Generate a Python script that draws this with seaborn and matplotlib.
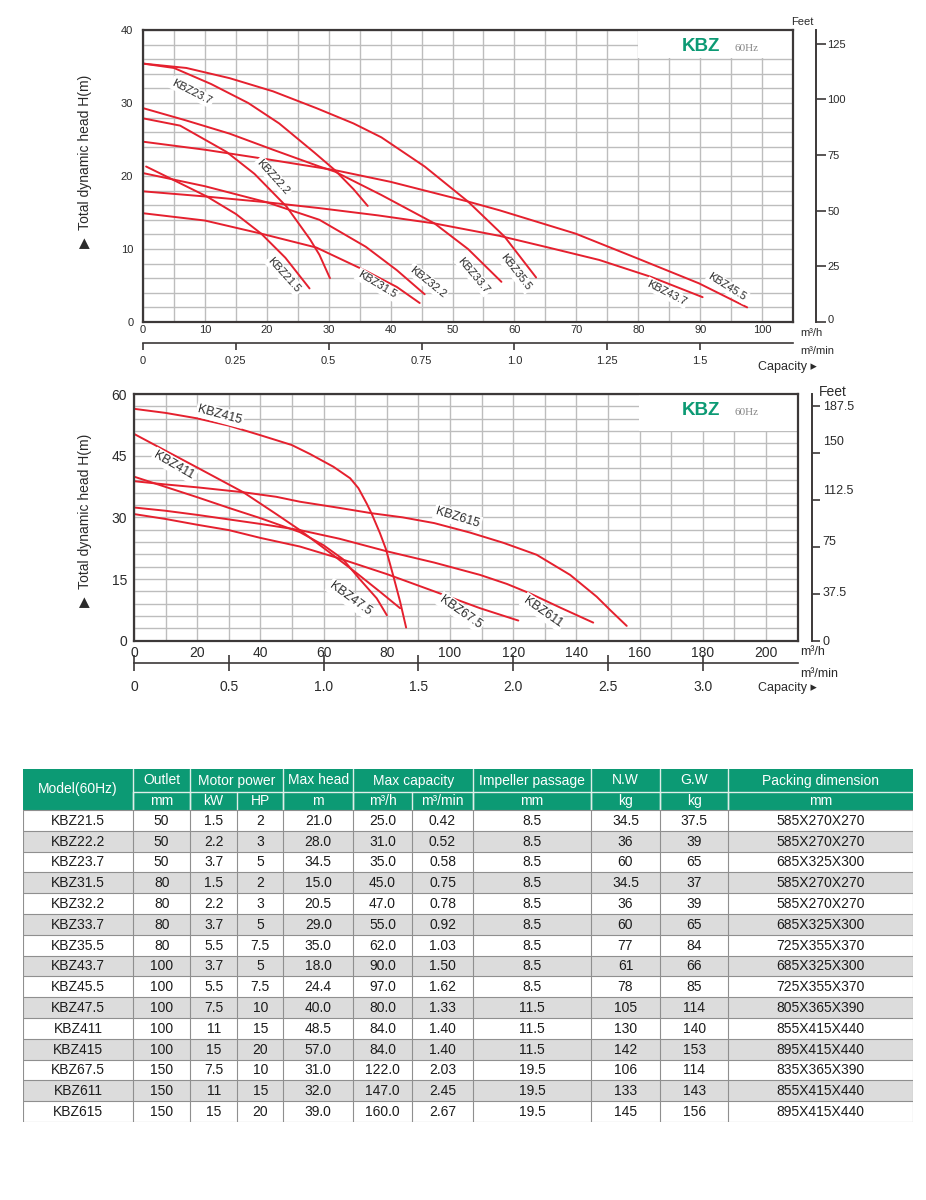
import matplotlib
matplotlib.use('Agg')
import matplotlib.pyplot as plt
import pandas as pd
import seaborn as sns
from matplotlib.patches import Rectangle
from matplotlib.ticker import MultipleLocator
from matplotlib.transforms import ScaledTranslation

sns.set_theme(style='white')
plt.rcParams['font.family'] = ['Liberation Sans', 'DejaVu Sans']
plt.rcParams['axes.unicode_minus'] = False

# ======================= DATA =======================
# Upper chart: capacity (m3/h) vs total head (m)
q_kbz21_5 = [0.5, 4.1, 10.3, 15.0, 19.1, 23.0, 26.9]
h_kbz21_5 = [21.3, 19.8, 17.2, 14.8, 12.1, 8.8, 4.6]
q_kbz22_2 = [0, 6, 13.5, 18, 23.2, 27, 28.5, 30.2]
h_kbz22_2 = [27.9, 26.9, 23.3, 20.3, 15.8, 11.3, 9.2, 6.0]
q_kbz23_7 = [0, 5, 11, 17, 22, 27.7, 31, 34, 36.3]
h_kbz23_7 = [35.4, 34.8, 32.6, 30.0, 27.2, 23.2, 20.8, 18.2, 15.9]
q_kbz31_5 = [0, 10, 19.1, 28, 36, 41, 44.7]
h_kbz31_5 = [14.9, 13.9, 12.1, 10.2, 7.0, 4.8, 2.6]
q_kbz32_2 = [0, 10, 20, 28.5, 36, 41, 45.5]
h_kbz32_2 = [20.4, 18.6, 16.4, 14.0, 10.3, 7.1, 3.8]
q_kbz33_7 = [0, 7, 14, 21, 28.5, 31, 38.5, 47.1, 52.5, 57.9]
h_kbz33_7 = [29.3, 27.6, 25.8, 23.6, 21.3, 20.6, 17.4, 13.5, 10.0, 5.5]
q_kbz35_5 = [0, 7, 14, 21, 28, 34, 38.5, 45.5, 52.5, 58.4, 63.5]
h_kbz35_5 = [35.4, 34.8, 33.4, 31.6, 29.3, 27.2, 25.3, 21.3, 16.5, 11.7, 6.1]
q_kbz43_7 = [0, 10, 20, 28.5, 38, 47.1, 57.6, 65, 73.7, 82, 90.4]
h_kbz43_7 = [17.9, 17.2, 16.4, 15.6, 14.6, 13.5, 11.8, 10.3, 8.5, 6.2, 3.4]
q_kbz45_5 = [0, 10, 20, 31, 40, 52.5, 57.6, 69.9, 79.9, 89.8, 97.6]
h_kbz45_5 = [24.7, 23.6, 22.3, 20.8, 19.2, 16.5, 15.3, 12.1, 8.7, 5.3, 2.0]

# Lower chart
q_kbz47_5 = [0, 10, 20, 30, 40, 52.5, 60, 66, 71.5, 76.8, 80]
h_kbz47_5 = [39.9, 37.4, 34.9, 32.3, 29.8, 26.4, 23.2, 19.9, 14.9, 10.3, 6.2]
q_kbz411 = [0, 10, 19.8, 34.6, 45, 52.5, 62, 70.5, 78, 84.2]
h_kbz411 = [50.3, 46.2, 42.2, 36.1, 30.8, 26.9, 21.4, 16.4, 11.8, 7.9]
q_kbz415 = [0, 10, 19.8, 30, 39.9, 49.9, 55.7, 63.1, 68.4, 71.0, 73.6, 75.2, 77.8, 79.7, 82.1, 84.2, 86.1]
h_kbz415 = [56.4, 55.4, 54.1, 52.3, 50.0, 47.6, 45.4, 42.3, 39.5, 37.1, 33.4, 30.9, 26.2, 22.3, 15.6, 9.5, 3.2]
q_kbz67_5 = [0, 10, 20, 30, 40, 52.5, 65, 80, 95, 109.5, 121.6]
h_kbz67_5 = [30.8, 29.6, 28.2, 26.9, 25.0, 22.9, 20.0, 16.2, 12.0, 7.9, 4.9]
q_kbz611 = [0, 10, 20, 30, 40, 52.5, 65, 79.7, 95, 109.5, 118, 125.3, 135, 145.3]
h_kbz611 = [32.4, 31.6, 30.6, 29.5, 28.4, 26.9, 24.8, 21.8, 19.0, 16.0, 13.8, 11.5, 8.0, 4.4]
q_kbz615 = [0, 10, 20, 34.6, 45, 52.5, 65, 75.2, 85, 95, 106.3, 116.9, 127.4, 138, 146.4, 150.6, 155.9]
h_kbz615 = [38.8, 38.0, 37.3, 36.1, 35.0, 33.8, 32.3, 31.0, 30.0, 28.6, 26.3, 23.8, 20.9, 16.0, 10.7, 7.5, 3.6]

# Axis tick labels
top_feet_ticks = [0, 25, 50, 75, 100, 125]
top_feet_labels = ['0', '25', '50', '75', '100', '125']
bot_feet_ticks = [0, 37.5, 75, 112.5, 150, 187.5]
bot_feet_labels = ['0', '37.5', '75', '112.5', '150', '187.5']
top_min_ticks = [0, 0.25, 0.5, 0.75, 1.0, 1.25, 1.5]
top_min_labels = ['0', '0.25', '0.5', '0.75', '1.0', '1.25', '1.5']
bot_min_ticks = [0, 0.5, 1.0, 1.5, 2.0, 2.5, 3.0]
bot_min_labels = ['0', '0.5', '1.0', '1.5', '2.0', '2.5', '3.0']

# Table
models = ['KBZ21.5', 'KBZ22.2', 'KBZ23.7', 'KBZ31.5', 'KBZ32.2', 'KBZ33.7', 'KBZ35.5', 'KBZ43.7',
          'KBZ45.5', 'KBZ47.5', 'KBZ411', 'KBZ415', 'KBZ67.5', 'KBZ611', 'KBZ615']
outlet = ['50', '50', '50', '80', '80', '80', '80', '100', '100', '100', '100', '100', '150', '150', '150']
power_kw = ['1.5', '2.2', '3.7', '1.5', '2.2', '3.7', '5.5', '3.7', '5.5', '7.5', '11', '15', '7.5', '11', '15']
power_hp = ['2', '3', '5', '2', '3', '5', '7.5', '5', '7.5', '10', '15', '20', '10', '15', '20']
max_head = ['21.0', '28.0', '34.5', '15.0', '20.5', '29.0', '35.0', '18.0', '24.4', '40.0', '48.5', '57.0',
            '31.0', '32.0', '39.0']
cap_m3h = ['25.0', '31.0', '35.0', '45.0', '47.0', '55.0', '62.0', '90.0', '97.0', '80.0', '84.0', '84.0',
           '122.0', '147.0', '160.0']
cap_m3min = ['0.42', '0.52', '0.58', '0.75', '0.78', '0.92', '1.03', '1.50', '1.62', '1.33', '1.40', '1.40',
             '2.03', '2.45', '2.67']
impeller = ['8.5', '8.5', '8.5', '8.5', '8.5', '8.5', '8.5', '8.5', '8.5', '11.5', '11.5', '11.5',
            '19.5', '19.5', '19.5']
net_w = ['34.5', '36', '60', '34.5', '36', '60', '77', '61', '78', '105', '130', '142', '106', '133', '145']
gross_w = ['37.5', '39', '65', '37', '39', '65', '84', '66', '85', '114', '140', '153', '114', '143', '156']
packing = ['585X270X270', '585X270X270', '685X325X300', '585X270X270', '585X270X270', '685X325X300',
           '725X355X370', '685X325X300', '725X355X370', '805X365X390', '855X415X440', '895X415X440',
           '835X365X390', '855X415X440', '895X415X440']
header_top = ['Model(60Hz)', 'Outlet', 'Motor power', 'Max head', 'Max capacity', 'Impeller passage',
              'N.W', 'G.W', 'Packing dimension']
header_units = ['', 'mm', 'kW', 'HP', 'm', 'm³/h', 'm³/min', 'mm', 'kg', 'kg', 'mm']

# ======================= STYLE / LAYOUT =======================
RED = '#e5202e'
GREEN = '#0c9a74'
GRID = '#bdbdbd'
SPINE = '#3c3838'
TXT = '#2a2a2a'
W, H = 926, 1200


def fx(px):
    return px / W


def fy(py):
    return 1 - py / H


def long_df(curves):
    rows = []
    for name, (q, h) in curves.items():
        for a, b in zip(q, h):
            rows.append((name, a, b))
    return pd.DataFrame(rows, columns=['model', 'q', 'h'])


top_df = long_df({
    'KBZ21.5': (q_kbz21_5, h_kbz21_5), 'KBZ22.2': (q_kbz22_2, h_kbz22_2),
    'KBZ23.7': (q_kbz23_7, h_kbz23_7), 'KBZ31.5': (q_kbz31_5, h_kbz31_5),
    'KBZ32.2': (q_kbz32_2, h_kbz32_2), 'KBZ33.7': (q_kbz33_7, h_kbz33_7),
    'KBZ35.5': (q_kbz35_5, h_kbz35_5), 'KBZ43.7': (q_kbz43_7, h_kbz43_7),
    'KBZ45.5': (q_kbz45_5, h_kbz45_5)})
bot_df = long_df({
    'KBZ47.5': (q_kbz47_5, h_kbz47_5), 'KBZ411': (q_kbz411, h_kbz411),
    'KBZ415': (q_kbz415, h_kbz415), 'KBZ67.5': (q_kbz67_5, h_kbz67_5),
    'KBZ611': (q_kbz611, h_kbz611), 'KBZ615': (q_kbz615, h_kbz615)})

# label placement (x, y, angle) - layout only
top_lab = {'KBZ23.7': (7.9, 31.5, -27), 'KBZ22.2': (21.0, 19.9, -48), 'KBZ21.5': (22.8, 6.4, -48),
           'KBZ31.5': (37.8, 5.1, -31), 'KBZ32.2': (46.0, 5.5, -39), 'KBZ33.7': (53.4, 6.4, -50),
           'KBZ35.5': (60.2, 6.8, -52), 'KBZ43.7': (84.6, 4.0, -27), 'KBZ45.5': (94.4, 4.8, -32)}
bot_lab = {'KBZ415': (27.2, 54.9, -15), 'KBZ411': (12.7, 42.6, -30), 'KBZ615': (102.4, 29.9, -17),
           'KBZ47.5': (68.4, 10.1, -36), 'KBZ67.5': (103.4, 6.9, -35), 'KBZ611': (129.4, 7.0, -35)}

fig = plt.figure(figsize=(W / 100, H / 100), dpi=100)
fig.patch.set_facecolor('white')


def chart(rect, df, xmax, ymax, xstep, gx, ystep, gy, tick_fs, xpad, ypad,
          feet_t, feet_l, feet_out, feet_fs, feet_len, feet_shift,
          min_t, min_l, min_loc, min_fs, min_dir, min_len, min_pad,
          labels, label_fs, box, kbz_xy, hz_xy):
    ax = fig.add_axes(rect)
    ax.set_axisbelow(True)
    sns.lineplot(data=df, x='q', y='h', units='model', estimator=None, sort=False,
                 color=RED, linewidth=1.4, ax=ax, zorder=2)
    ax.set_xlim(0, xmax)
    ax.set_ylim(0, ymax)
    ax.set_xlabel('')
    ax.set_ylabel('')
    ax.xaxis.set_major_locator(MultipleLocator(xstep))
    ax.xaxis.set_minor_locator(MultipleLocator(gx))
    ax.yaxis.set_major_locator(MultipleLocator(ystep))
    ax.yaxis.set_minor_locator(MultipleLocator(gy))
    ax.grid(which='both', color=GRID, linewidth=1.0)
    ax.tick_params(axis='x', which='both', length=0, labelsize=tick_fs, pad=xpad, labelcolor=TXT)
    ax.tick_params(axis='y', which='both', length=0, labelsize=tick_fs, pad=ypad, labelcolor=TXT)
    for s in ax.spines.values():
        s.set_visible(True)
        s.set_color(SPINE)
        s.set_linewidth(1.6)
    ax.add_patch(Rectangle((box[0], box[1]), 1 - box[0], 1 - box[1], transform=ax.transAxes,
                           fc='white', ec='none', zorder=1))
    ax.text(kbz_xy[0], kbz_xy[1], 'KBZ', transform=ax.transAxes, ha='center', va='center',
            fontsize=13.5, fontweight='bold', color=GREEN, family=['Liberation Sans'], zorder=4)
    ax.text(hz_xy[0], hz_xy[1], '60Hz', transform=ax.transAxes, ha='center', va='center',
            fontsize=8, color='#858585', family=['Liberation Serif'], zorder=4)
    for name, (lx, ly, ang) in labels.items():
        ax.text(lx, ly, name, rotation=ang, rotation_mode='anchor', ha='center', va='center',
                fontsize=label_fs, color=TXT, zorder=5,
                bbox=dict(boxstyle='square,pad=0.15', fc='white', ec='none'))

    # feet axis
    ax2 = ax.twinx()
    ax2.set_ylim(0, ymax * 3.28084)
    ax2.set_yticks(feet_t)
    ax2.set_yticklabels(feet_l)
    ax2.grid(False)
    for k in ['top', 'bottom', 'left']:
        ax2.spines[k].set_visible(False)
    ax2.spines['right'].set_position(('outward', feet_out))
    ax2.spines['right'].set_color(SPINE)
    ax2.spines['right'].set_linewidth(1.4)
    ax2.tick_params(axis='y', right=True, left=False, direction='out', length=feet_len, width=1.2,
                    color=SPINE, labelsize=feet_fs, pad=1.5, labelcolor=TXT)
    for lab, up in zip(ax2.get_yticklabels(), feet_shift):
        lab.set_transform(lab.get_transform() + ScaledTranslation(0, up / 100, fig.dpi_scale_trans))

    # m3/min axis
    sec = ax.secondary_xaxis(min_loc, functions=(lambda q: q / 60.0, lambda m: m * 60.0))
    sec.set_xticks(min_t, labels=min_l)
    sec.spines['bottom'].set_color(SPINE)
    sec.spines['bottom'].set_linewidth(1.2)
    sec.tick_params(axis='x', bottom=True, top=False, direction=min_dir, length=min_len, width=1.2,
                    color=SPINE, labelsize=min_fs, pad=min_pad, labelcolor=TXT)
    return ax


# ---- upper chart
chart([fx(143), fy(322), 650 / W, 292 / H], top_df, 105, 40, 10, 5, 10, 2, 8, 2, 7,
      top_feet_ticks, top_feet_labels, 16.3, 8, 7, [3, 0, 0, 0, 0, 0],
      top_min_ticks, top_min_labels, -21.3 / 292, 8, 'out', 5, 4.5,
      top_lab, 8, (0.7615, 0.904), (0.858, 0.943), (0.929, 0.935))

fig.text(fx(85), fy(161), '▶  Total dynamic head H(m)', rotation=90, ha='center', va='center',
         fontsize=10, color=TXT)
fig.text(fx(802), fy(22), 'Feet', ha='center', va='center', fontsize=8, color=TXT)
fig.text(fx(800), fy(333), 'm³/h', ha='left', va='center', fontsize=8, color=TXT)
fig.text(fx(800), fy(351), 'm³/min', ha='left', va='center', fontsize=8, color=TXT)
fig.text(fx(758), fy(367), 'Capacity ▸', ha='left', va='center', fontsize=9, color=TXT)

# ---- lower chart
chart([fx(134), fy(640.7), 663.7 / W, 246.7 / H], bot_df, 210, 60, 20, 10, 15, 3, 10, 3.5, 5,
      bot_feet_ticks, bot_feet_labels, 10.6, 9, 6, [0, 2.7, 6.7, 10, 12.7, 0],
      bot_min_ticks, bot_min_labels, -22.6 / 246.7, 10, 'inout', 12, 6,
      bot_lab, 9, (0.761, 0.851), (0.854, 0.935), (0.923, 0.925))

fig.text(fx(85), fy(520), '▶  Total dynamic head H(m)', rotation=90, ha='center', va='center',
         fontsize=10, color=TXT)
fig.text(fx(833), fy(392), 'Feet', ha='center', va='center', fontsize=10, color=TXT)
fig.text(fx(800), fy(652), 'm³/h', ha='left', va='center', fontsize=9, color=TXT)
fig.text(fx(800), fy(674), 'm³/min', ha='left', va='center', fontsize=9, color=TXT)
fig.text(fx(758), fy(688), 'Capacity ▸', ha='left', va='center', fontsize=9, color=TXT)

# ---- table
cols = [22.7, 133.3, 190, 237.3, 283.3, 353.3, 411.7, 473.3, 591, 660, 728.3, 913.3]
h0, h1, h2, hb = 769, 792, 810, 1122
nrow = len(models)
rowh = (hb - h2) / nrow
tax = fig.add_axes([fx(cols[0]), fy(hb), (cols[-1] - cols[0]) / W, (hb - h0) / H])
tax.set_xlim(cols[0], cols[-1])
tax.set_ylim(hb, h0)
tax.axis('off')

tax.add_patch(Rectangle((cols[0], h0), cols[-1] - cols[0], h2 - h0, fc=GREEN, ec='none'))
groups = [(0, 1), (1, 2), (2, 4), (4, 5), (5, 7), (7, 8), (8, 9), (9, 10), (10, 11)]
for (a, b), txt in zip(groups, header_top):
    cx = (cols[a] + cols[b]) / 2
    cy = (h0 + h2) / 2 if a == 0 else (h0 + h1) / 2
    tax.text(cx, cy, txt, ha='center', va='center', fontsize=10, color='white')
    if a > 0:
        tax.plot([cols[a], cols[a]], [h0, h2], color='#dfeee9', lw=1.0)
tax.plot([cols[1], cols[-1]], [h1, h1], color='#dfeee9', lw=1.0)
for j in range(1, len(cols) - 1):
    tax.plot([cols[j], cols[j]], [h1, h2], color='#dfeee9', lw=1.0)
for j, u in enumerate(header_units):
    if u:
        tax.text((cols[j] + cols[j + 1]) / 2, (h1 + h2) / 2, u, ha='center', va='center',
                 fontsize=10, color='white')

table_cols = [models, outlet, power_kw, power_hp, max_head, cap_m3h, cap_m3min, impeller,
              net_w, gross_w, packing]
for i in range(nrow):
    y0 = h2 + i * rowh
    tax.add_patch(Rectangle((cols[0], y0), cols[-1] - cols[0], rowh,
                            fc='white' if i % 2 == 0 else '#dcdcdc', ec='none'))
    for j, colvals in enumerate(table_cols):
        tax.text((cols[j] + cols[j + 1]) / 2, y0 + rowh / 2 + 0.5, colvals[i], ha='center',
                 va='center', fontsize=10, color='#1c1c1c')
for i in range(nrow + 1):
    y = h2 + i * rowh
    tax.plot([cols[0], cols[-1]], [y, y], color='#8f8f8f', lw=0.8)
for x in cols:
    tax.plot([x, x], [h2, hb], color='#8f8f8f', lw=0.8)

fig.savefig('out.png', dpi=100, facecolor='white')
